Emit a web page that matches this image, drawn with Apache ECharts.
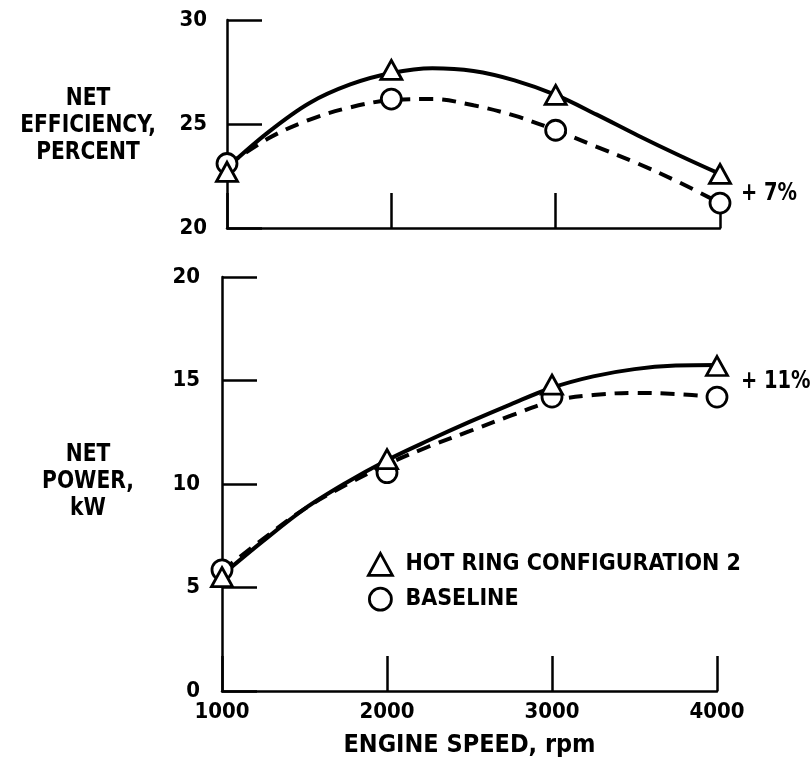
<!DOCTYPE html>
<html>
<head>
<meta charset="utf-8">
<script src="https://cdn.jsdelivr.net/npm/echarts@6/dist/echarts.min.js"></script>
<style>
html,body{margin:0;padding:0;background:#fff;}
#chart{width:812px;height:763px;}
</style>
</head>
<body>
<div id="chart"></div>
<script>
// ---- Data ----
const speeds = [1000, 2000, 3000, 4000];
// measured points (markers)
const effHotRing = [22.7, 27.6, 26.4, 22.6];
const effBaseline = [23.1, 26.2, 24.7, 21.2];
const powHotRing = [5.5, 11.2, 14.8, 15.7];
const powBaseline = [5.85, 10.55, 14.2, 14.2];
// hand-faired curves at these speeds
const curveSpeeds = [1000, 1250, 1500, 1750, 2000, 2250, 2500, 2750, 3000, 3250, 3500, 3750, 4000];
const effHotCurve = [22.9, 24.6, 26.0, 26.9, 27.45, 27.68, 27.55, 27.1, 26.4, 25.45, 24.45, 23.5, 22.6];
const effBaseCurve = [23.0, 24.3, 25.2, 25.8, 26.15, 26.2, 25.9, 25.4, 24.7, 23.9, 23.1, 22.2, 21.2];
const powHotCurve = [5.6, 7.25, 8.8, 10.05, 11.15, 12.1, 13.0, 13.85, 14.65, 15.2, 15.55, 15.72, 15.75];
const powBaseCurve = [5.8, 7.35, 8.8, 9.95, 10.95, 11.8, 12.55, 13.3, 14.0, 14.3, 14.4, 14.35, 14.2];
const seriesNames = ['HOT RING CONFIGURATION 2', 'BASELINE'];
const effTicks = [20, 25, 30];
const powTicks = [0, 5, 10, 15, 20];
const speedTicks = [1000, 2000, 3000, 4000];
const effLabel = 'NET\nEFFICIENCY,\nPERCENT';
const powLabel = 'NET\nPOWER,\nkW';
const xLabel = 'ENGINE SPEED, rpm';
const effNote = '+ 7%';
const powNote = '+ 11%';

const FONT = '"Liberation Sans Narrow", "DejaVu Sans Condensed", "DejaVu Sans", sans-serif';
const BLACK = '#000';

function pairs(xs, ys) { return xs.map((x, i) => [x, ys[i]]); }

const axisLine = { show: true, lineStyle: { color: BLACK, width: 2.5 } };
const axisTick = { show: true, inside: true, length: 35, lineStyle: { color: BLACK, width: 2.5 } };
const labelStyle = { color: BLACK, fontFamily: FONT, fontWeight: 'bold', fontSize: 22, formatter: v => String(v) };

function curveSeries(xi, yi, data, dashed) {
  return {
    type: 'line',
    xAxisIndex: xi,
    yAxisIndex: yi,
    data: data,
    smooth: 0.35,
    clip: false,
    showSymbol: false,
    symbol: 'none',
    silent: true,
    lineStyle: { color: BLACK, width: 4, type: dashed ? [14, 9] : 'solid' },
    z: 2
  };
}

function markerSeries(name, xi, yi, data, symbol) {
  return {
    name: name,
    type: 'scatter',
    xAxisIndex: xi,
    yAxisIndex: yi,
    data: data,
    clip: false,
    symbol: symbol,
    symbolSize: symbol === 'triangle' ? [21, 19] : 20,
    itemStyle: { color: '#fff', borderColor: BLACK, borderWidth: 2.8, opacity: 1 },
    emphasis: { disabled: true },
    z: symbol === 'triangle' ? 5 : 4
  };
}

const chart = echarts.init(document.getElementById('chart'), null, { renderer: 'canvas' });
chart.setOption({
  animation: false,
  backgroundColor: '#fff',
  grid: [
    { left: 227, top: 20, width: 493, height: 208 },
    { left: 222, top: 277, width: 495, height: 415 }
  ],
  xAxis: [
    {
      type: 'value', gridIndex: 0, min: speedTicks[0], max: speedTicks[speedTicks.length - 1], interval: 1000,
      axisLine: axisLine, axisTick: axisTick, axisLabel: { show: false }, splitLine: { show: false }
    },
    {
      type: 'value', gridIndex: 1, min: speedTicks[0], max: speedTicks[speedTicks.length - 1], interval: 1000,
      axisLine: axisLine, axisTick: axisTick,
      axisLabel: Object.assign({ margin: 10 }, labelStyle),
      splitLine: { show: false },
      name: xLabel, nameLocation: 'middle', nameGap: 42,
      nameTextStyle: { color: BLACK, fontFamily: FONT, fontWeight: 'bold', fontSize: 25 }
    }
  ],
  yAxis: [
    {
      type: 'value', gridIndex: 0, min: effTicks[0], max: effTicks[effTicks.length - 1], interval: 5,
      axisLine: axisLine, axisTick: axisTick,
      axisLabel: Object.assign({ margin: 20 }, labelStyle), splitLine: { show: false }
    },
    {
      type: 'value', gridIndex: 1, min: powTicks[0], max: powTicks[powTicks.length - 1], interval: 5,
      axisLine: axisLine, axisTick: axisTick,
      axisLabel: Object.assign({ margin: 22 }, labelStyle), splitLine: { show: false }
    }
  ],
  legend: {
    orient: 'vertical',
    left: 362,
    top: 547,
    itemGap: 10,
    itemWidth: 24,
    itemHeight: 22,
    selectedMode: false,
    itemStyle: { color: '#fff', borderColor: BLACK, borderWidth: 2.8 },
    textStyle: { color: BLACK, fontFamily: FONT, fontWeight: 'bold', fontSize: 23, padding: [0, 0, 0, 8] },
    data: [
      { name: seriesNames[0], icon: 'triangle' },
      { name: seriesNames[1], icon: 'circle' }
    ]
  },
  series: [
    curveSeries(0, 0, pairs(curveSpeeds, effBaseCurve), true),
    curveSeries(0, 0, pairs(curveSpeeds, effHotCurve), false),
    curveSeries(1, 1, pairs(curveSpeeds, powBaseCurve), true),
    curveSeries(1, 1, pairs(curveSpeeds, powHotCurve), false),
    markerSeries(seriesNames[1], 0, 0, pairs(speeds, effBaseline), 'circle'),
    markerSeries(seriesNames[0], 0, 0, pairs(speeds, effHotRing), 'triangle'),
    markerSeries(seriesNames[1], 1, 1, pairs(speeds, powBaseline), 'circle'),
    markerSeries(seriesNames[0], 1, 1, pairs(speeds, powHotRing), 'triangle')
  ],
  graphic: [
    {
      type: 'text', x: 88, y: 125, scaleX: 0.9,
      style: { text: effLabel, fill: BLACK, font: 'bold 25px ' + FONT, align: 'center', verticalAlign: 'middle', lineHeight: 27 }
    },
    {
      type: 'text', x: 88, y: 481, scaleX: 0.9,
      style: { text: powLabel, fill: BLACK, font: 'bold 25px ' + FONT, align: 'center', verticalAlign: 'middle', lineHeight: 27 }
    },
    {
      type: 'text', x: 741, y: 194, scaleX: 0.9,
      style: { text: effNote, fill: BLACK, font: 'bold 24px ' + FONT, align: 'left', verticalAlign: 'middle' }
    },
    {
      type: 'text', x: 741, y: 382, scaleX: 0.9,
      style: { text: powNote, fill: BLACK, font: 'bold 24px ' + FONT, align: 'left', verticalAlign: 'middle' }
    }
  ]
});
</script>
</body>
</html>
